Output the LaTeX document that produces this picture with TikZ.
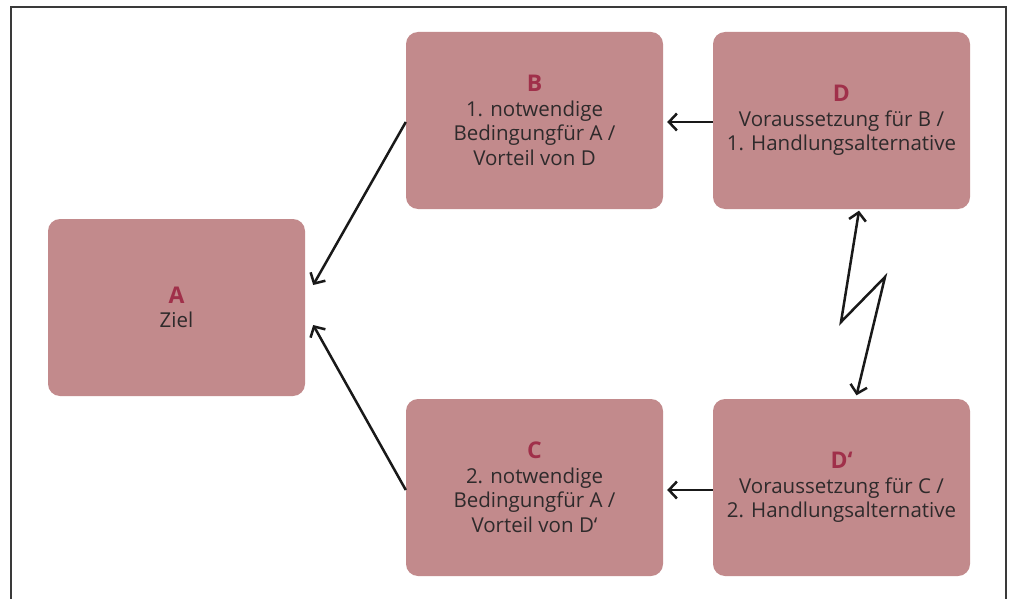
\documentclass[tikz,border=0pt]{standalone}
\usepackage{fontspec}
\setmainfont{Open Sans}
\usetikzlibrary{arrows.meta,calc}
\definecolor{boxfill}{HTML}{C28A8C}
\definecolor{titlecol}{HTML}{A0304A}
\definecolor{txtcol}{HTML}{2E2A2B}
\definecolor{framecol}{HTML}{3A3A3A}
\tikzset{
  box/.style={fill=boxfill, draw=none, rounded corners=12pt, minimum width=257pt, minimum height=177pt, inner sep=0pt,
    align=center, text=txtcol, font=\fontsize{20.5}{24.5}\selectfont},
  conn/.style={draw=black!90, line width=2.5pt, -{Straight Barb[length=8pt,width=17pt,line width=2.5pt]}},
  bothconn/.style={draw=black!90, line width=2.5pt, {Straight Barb[length=8pt,width=17pt,line width=2.5pt]}-{Straight Barb[length=8pt,width=17pt,line width=2.5pt]}, line join=miter},
}
\newcommand{\ttl}[1]{{\fontsize{23}{26}\selectfont\color{titlecol}\bfseries #1}}
\begin{document}
\begin{tikzpicture}[x=1pt,y=-1pt]
\useasboundingbox (0,0) rectangle (1012,599);
\fill[white] (0,0) rectangle (1012,599);
\draw[framecol, line width=2pt] (10.5,600) -- (10.5,7.5) -- (1006,7.5) -- (1006,600);
\node[box] (A) at (176.5,307.5) {\ttl{A}\\Ziel};
\node[box] (B) at (534.5,120.5) {\ttl{B}\\1. notwendige\\Bedingungfür A /\\Vorteil von D};
\node[box] (D) at (841.5,120.5) {\ttl{D}\\Voraussetzung für B /\\1. Handlungsalternative};
\node[box] (C) at (534.5,487.5) {\ttl{C}\\2. notwendige\\Bedingungfür A /\\Vorteil von D‘};
\node[box] (Dp) at (841.5,487.5) {\ttl{D‘}\\Voraussetzung für C /\\2. Handlungsalternative};
\coordinate (Ain1) at ($(A.east)+(8,-22.5)$);
\coordinate (Ain2) at ($(A.east)+(8,17.5)$);
\draw[conn] ($(B.west)+(0,1.5)$) -- (Ain1);
\draw[conn] ($(C.west)+(0,2.5)$) -- (Ain2);
\draw[conn] ($(D.west)+(0,1.5)$) -- ($(B.east)+(4,1.5)$);
\draw[conn] ($(Dp.west)+(0,2.5)$) -- ($(C.east)+(4,2.5)$);
\coordinate (Z1) at (841,322);
\coordinate (Z2) at (885,277);
\draw[bothconn] ($(D.south)+(17.5,1.5)$) -- (Z1) -- (Z2) -- ($(Dp.north)+(15,-3.5)$);
\end{tikzpicture}
\end{document}
